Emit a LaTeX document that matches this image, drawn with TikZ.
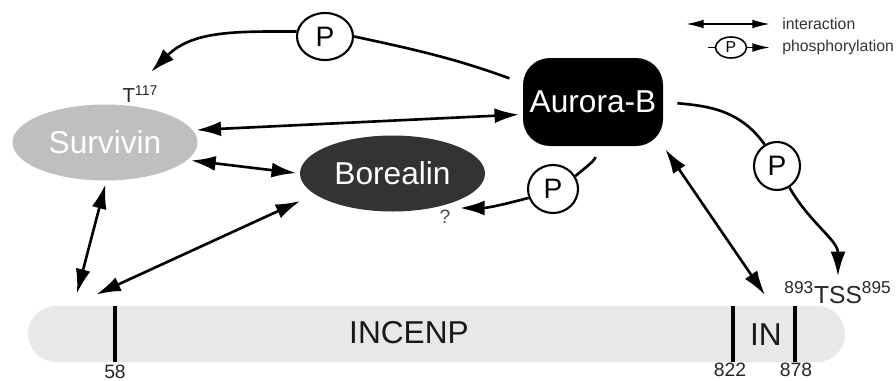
\documentclass[tikz,border=0pt]{standalone}
\usepackage{fontspec}
\setmainfont{Liberation Sans}
\usetikzlibrary{arrows.meta,shapes.geometric}

\begin{document}
\begin{tikzpicture}[scale=0.2]
        \tikzstyle{every node}+=[inner sep=0pt]
        \tikzstyle{prot}=[ellipse, text=white, font=\fontsize{18}{20}\selectfont, minimum width=3.7cm, minimum height=1.52cm]
        \tikzstyle{phos}=[ellipse, draw, line width=1.2pt, fill=white, font=\fontsize{16}{18}\selectfont, minimum width=1cm, minimum height=0.96cm]
        \tikzstyle{ia}=[line width=1.5pt, {Latex[length=14pt,width=8.5pt]}-{Latex[length=14pt,width=8.5pt]}, shorten <=2pt, shorten >=2pt]
        \tikzstyle{ph}=[line width=1.5pt, -{Latex[length=14pt,width=8.5pt]}]
        \tikzstyle{pl}=[line width=1.5pt]
        \tikzstyle{lbl}=[text=black!85, font=\fontsize{11}{12}\selectfont]
        \tikzstyle{lgd}=[text=black!80, font=\fontsize{9}{10}\selectfont, anchor=west]
        \useasboundingbox (0,0) rectangle (89.6,-38);
        \node [prot, fill=black!25] (survivin) at (10.5,-14.25) {Survivin};
        \node [prot, fill=black!80] (borealin) at (39.25,-17.35) {Borealin};
        \node [fill=black, text=white, rounded corners=0.54cm, minimum width=2.8cm, minimum height=1.76cm, font=\fontsize{18}{20}\selectfont] (aurora) at (59.3,-10.2) {Aurora-B};
        \node [fill=black!9, rounded corners=0.56cm, minimum width=16.34cm, minimum height=1.12cm] (bar) at (43.65,-33.4) {};
        \node [text=black!90, font=\fontsize{18}{20}\selectfont] (incenp) at (40.9,-33.3) {INCENP};
        \node [text=black!90, font=\fontsize{18}{20}\selectfont] (in) at (76.6,-33.5) {IN};
        \draw [line width=2pt] (11.5,-30.6) -- (11.5,-36.2);
        \draw [line width=2pt] (73.3,-30.6) -- (73.3,-36.2);
        \draw [line width=2pt] (79.5,-30.6) -- (79.5,-36.2);
        \node [lbl] (n58) at (11.5,-37.15) {58};
        \node [lbl] (n822) at (73,-37) {822};
        \node [lbl] (n878) at (79.6,-37) {878};
        \node [lbl, font=\fontsize{11.5}{12}\selectfont] (t117) at (14.05,-9.4) {T\textsuperscript{117}};
        \node [lbl, anchor=base, font=\fontsize{14}{15}\selectfont] (tss) at (83.8,-30.3) {\textsuperscript{893}TSS\textsuperscript{895}};
        \node [lbl, text=black!70] (qm) at (44.5,-21.7) {?};
        \node [phos, minimum width=1.12cm, minimum height=0.94cm] (pt) at (32.5,-3.65) {P};
        \node [phos, minimum width=0.92cm] (pr) at (77.7,-16.6) {P};
        \node [phos] (pb) at (55.3,-18.9) {P};
        \coordinate (s1) at (7.6,-29.7);
        \coordinate (s2) at (9.3,-29.6);
        \coordinate (s3) at (76.7,-29.8);
        \coordinate (tt) at (15.1,-7.2);
        \coordinate (qt) at (46,-20.8);
        \draw [ia] (survivin.8) -- (aurora.190);
        \draw [ia] (survivin.-12) -- (borealin.west);
        \draw [ia] (survivin.-88) -- (s1);
        \draw [ia, shorten <=9pt] (borealin.195) -- (s2);
        \draw [ia] (aurora.south east) -- (s3);
        \draw [pl, shorten <=8pt] (aurora.165) to [out=160,in=-12] (pt.east);
        \draw [ph] (pt.170) to [out=180,in=45] (tt);
        \draw [pl, shorten <=8pt] (aurora.east) to [out=-5,in=125] (pr.120);
        \draw [ph, shorten >=3pt] (pr.-60) to [out=-60,in=90] (tss.north);
        \draw [pl, shorten <=6pt] (aurora.-87) to [out=-90,in=40] (pb.30);
        \draw [ph] (pb.200) to [out=195,in=0] (qt);
        \coordinate (lg1) at (68.6,-2.4);
        \coordinate (lg2) at (77,-2.4);
        \node [lgd] (lgi) at (78.2,-2.4) {interaction};
        \node [ellipse, draw, line width=0.9pt, minimum width=0.62cm, minimum height=0.42cm, font=\fontsize{9}{10}\selectfont] (lp) at (73.1,-4.75) {P};
        \coordinate (lp1) at (70.8,-4.75);
        \coordinate (lp2) at (77,-4.75);
        \node [lgd] (lgp) at (78.2,-4.75) {phosphorylation};
        \draw [line width=1pt, {Latex[length=10pt,width=5pt]}-{Latex[length=10pt,width=5pt]}] (lg1) -- (lg2);
        \draw [line width=1pt] (lp1) -- (lp);
        \draw [line width=1pt, -{Latex[length=10pt,width=5pt]}] (lp) -- (lp2);
\end{tikzpicture}
\end{document}
